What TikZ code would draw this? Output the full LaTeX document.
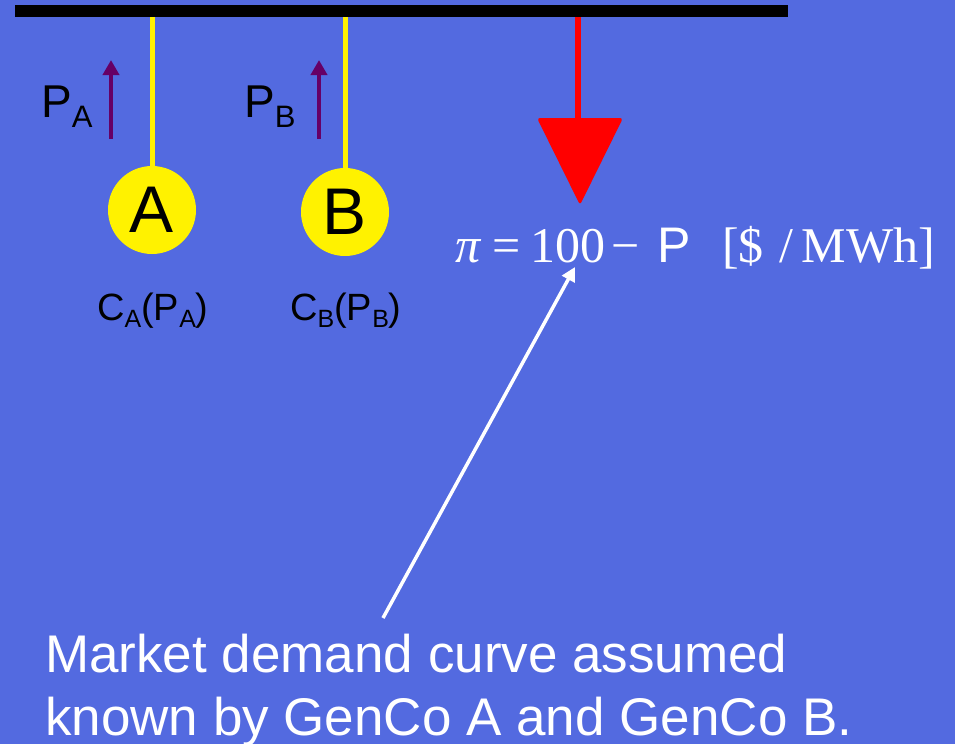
\documentclass[tikz,border=0pt]{standalone}
\usepackage{fontspec}
\setmainfont{Liberation Serif}
\setsansfont{Liberation Sans}
\usetikzlibrary{arrows.meta}
\definecolor{bgblue}{RGB}{83,106,224}
\definecolor{flowpurple}{RGB}{102,0,102}
\newcommand{\fs}[1]{\fontsize{#1}{#1}\selectfont}
\newcommand{\lowsub}[3]{\raisebox{-#2pt}{\fs{#1}#3}}
\begin{document}
\begin{tikzpicture}[x=1pt,y=-1pt,
  gen/.style={circle,fill=yellow,minimum size=88pt,inner sep=0pt,text=black,font=\sffamily\fs{66}},
  tie/.style={yellow,line width=5pt},
  flow/.style={flowpurple,line width=4pt,-{Triangle[length=15pt,width=16pt]}},
  lbl/.style={anchor=base west,inner sep=0pt,text=black,font=\sffamily},
  wlbl/.style={anchor=base west,inner sep=0pt,text=white}]
\fill[bgblue] (0,0) rectangle (955,744);
\useasboundingbox (0,0) rectangle (955,744);
% bus
\coordinate (busL) at (15,11);
\coordinate (busR) at (788,11);
\draw[black,line width=12pt] (busL) -- (busR);
% generators
\node[gen] (A) at (152,210) {A};
\node[gen] (B) at (345,212) {B};
\draw[tie] (A.north) -- (A.north |- 0,17);
\draw[tie] (B.north) -- (B.north |- 0,17);
% power flow arrows
\coordinate (fa0) at (111,139);
\coordinate (fa1) at (111,60);
\coordinate (fb0) at (319,139);
\coordinate (fb1) at (319,60);
\draw[flow] (fa0) -- (fa1);
\draw[flow] (fb0) -- (fb1);
\node[lbl] (PA) at (41,117) {\fs{46}P\lowsub{31}{10}{A}};
\node[lbl] (PB) at (244,117) {\fs{46}P\lowsub{31}{10}{B}};
% cost labels
\node[lbl] (CA) at (97,320) {\fs{38}C\lowsub{25}{7}{A}(P\lowsub{25}{7}{A})};
\node[lbl] (CB) at (290,320) {\fs{38}C\lowsub{25}{7}{B}(P\lowsub{25}{7}{B})};
% demand
\coordinate (dtop) at (578,17);
\coordinate (dtip) at (580,205);
\draw[red,line width=6pt] (dtop) -- (578,120);
\fill[red,rounded corners=3pt] (537,118) -- (623,118) -- (dtip) -- cycle;
% equation
\node[wlbl] (eq) at (455,262) {\fs{50}\itshape π\upshape\hspace{12pt}=\hspace{10pt}100\hspace{6pt}−\hspace{18pt}\sffamily P};
\node[wlbl] (unit) at (722,262) {\fs{50}[\$\hspace{16pt}/\hspace{8pt}MWh]};
% note
\node[wlbl,font=\sffamily\fs{53}] (note1) at (45,672) {Market demand curve assumed};
\node[wlbl,font=\sffamily\fs{53}] (note2) at (45,735) {known by GenCo A and GenCo B.};
\coordinate (tail) at (383,618);
\coordinate (head) at (575,267);
\draw[white,line width=3.5pt,-{Triangle[length=14pt,width=14pt]}] (tail) -- (head);
\end{tikzpicture}
\end{document}
